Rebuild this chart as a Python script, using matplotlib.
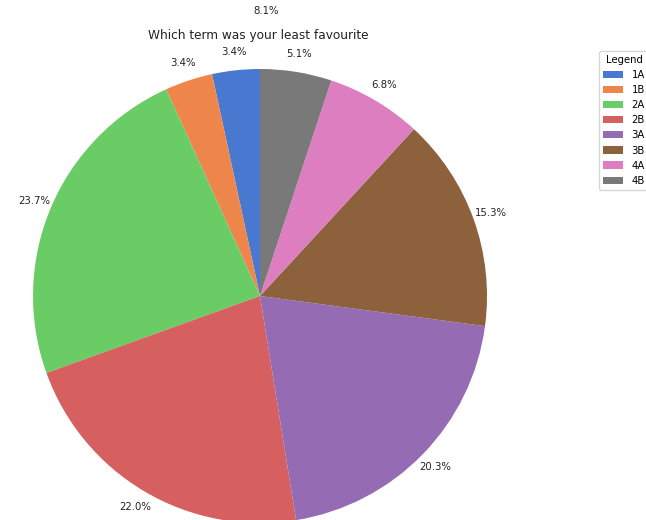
import matplotlib.pyplot as plt

# survey answers, least favourite term
terms = ['1A', '1B', '2A', '2B', '3A', '3B', '4A', '4B']
counts = [2, 2, 14, 13, 12, 9, 4, 3]
colors = ['#4878d0', '#ee854a', '#6acc64', '#d65f5f',
          '#956cb4', '#8c613c', '#dc7ec0', '#797979']
extra_label = '8.1%'

fig = plt.figure(figsize=(6.46, 5.2), dpi=100)
ax = fig.add_axes([0, 0, 1, 1])

wedges, texts, autotexts = ax.pie(counts, colors=colors, startangle=90,
                                  counterclock=True, autopct='%1.1f%%',
                                  pctdistance=1.08,
                                  textprops={'fontsize': 7.3, 'color': '#222222'})

# place the pie like the reference: centre at (260, 296) px, radius 227 px
r = 227.0
cx, cy = 260.0, 520 - 296.0
ax.set_aspect('auto')
ax.set_xlim(-cx / r, (646 - cx) / r)
ax.set_ylim(-cy / r, (520 - cy) / r)
ax.axis('off')

fig.text(266 / 646, 1 - 11 / 520, extra_label, ha='center', va='center',
         fontsize=7.3, color='#222222')
fig.text(258 / 646, 1 - 36 / 520, 'Which term was your least favourite',
         ha='center', va='center', fontsize=8.7, color='#222222')

leg = fig.legend(wedges, terms, title='Legend', loc='upper left',
                 bbox_to_anchor=(597 / 646, 1 - 49 / 520),
                 fontsize=7.3, title_fontsize=7.3, labelspacing=0.5,
                 handlelength=2.0, borderpad=0.4, borderaxespad=0.2)

plt.savefig('out.png', dpi=100)
